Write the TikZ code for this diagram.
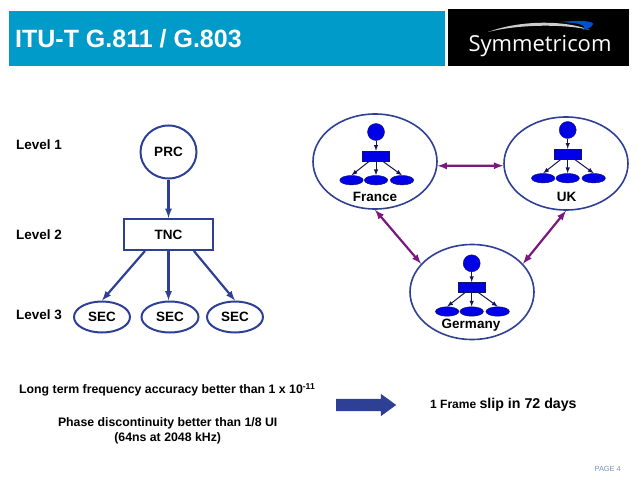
\documentclass[tikz,border=0pt]{standalone}
\usepackage{fontspec}
\setmainfont{Liberation Sans}
\newfontfamily\logofont{Open Sans}
\usepackage{xcolor}
\usetikzlibrary{shapes.geometric}
\usetikzlibrary{shapes.arrows}
\definecolor{headblue}{RGB}{0,155,201}
\definecolor{linkblue}{RGB}{46,64,150}
\definecolor{linkpurple}{RGB}{122,24,124}
\definecolor{treeblue}{RGB}{0,0,230}
\definecolor{treenavy}{RGB}{20,20,90}
\definecolor{pagegrey}{RGB}{120,150,185}

\begin{document}
\begin{tikzpicture}
  [
    x=1pt,
    y=-1pt,
    >=latex,
    label/.style={
       font=\bfseries\fontsize{13.5}{15}\selectfont,
       inner sep=0pt
    },
    clock/.style={
       ellipse,
       draw=linkblue,
       line width=2pt,
       inner sep=0pt,
       font=\bfseries\fontsize{13.5}{15}\selectfont
    },
    ld/.style={
       draw=linkblue,
       line width=2.2pt,
       ->
    },
    region/.style={
       ellipse,
       draw=linkblue,
       line width=1.6pt,
       minimum width=124pt,
       minimum height=95pt,
       inner sep=0pt
    },
    link/.style={
       draw=linkpurple,
       line width=2.2pt,
       <->
    },
    treepart/.style={
       draw=treenavy,
       line width=0.4pt,
       fill=treeblue,
       inner sep=0pt
    },
    treeline/.style={
       draw=treenavy,
       line width=1pt,
       ->
    }
  ]
  \useasboundingbox (0,0) rectangle (638,479);

  % header
  \node (head) at (226.8,38.5) [fill=headblue, minimum width=435.6pt, minimum height=55pt, inner sep=0pt] {};
  \node (title) at (15,38.5) [anchor=west, inner sep=0pt, white, font=\bfseries\fontsize{25}{28}\selectfont] {ITU-T G.811 / G.803};
  \node (logobox) at (538.5,37.5) [fill=black, minimum width=181pt, minimum height=57pt, inner sep=0pt] {};
  \node (logo) at (540,46) [inner sep=0pt, white, font=\logofont\fontsize{22}{25}\selectfont] {Symmetricom};
  \fill [white!80!black] (488,32) .. controls (520,20) and (565,20) .. (590,30) .. controls (565,24) and (520,24) .. (488,32);
  \fill [blue!60!cyan!80!black] (560,22) .. controls (580,20) and (593,21) .. (593,24) .. controls (592,27) and (588,29) .. (583,30) .. controls (587,26) and (583,23) .. (560,22);

  % levels
  \node (level1) at (16,145) [label, anchor=west] {Level 1};
  \node (level2) at (16,235) [label, anchor=west] {Level 2};
  \node (level3) at (16,315) [label, anchor=west] {Level 3};

  \node (prc) at (168.5,152) [clock, minimum width=56pt, minimum height=53pt] {PRC};
  \node (tnc) at (168.5,234.5) [draw=linkblue, line width=2pt, minimum width=89pt, minimum height=31pt, inner sep=0pt, font=\bfseries\fontsize{13.5}{15}\selectfont] {TNC};
  \node (seca) at (102,317) [clock, minimum width=56pt, minimum height=31pt] {SEC};
  \node (secb) at (170,317) [clock, minimum width=57pt, minimum height=31pt] {SEC};
  \node (secc) at (235,317) [clock, minimum width=56pt, minimum height=31pt] {SEC};

  \draw [ld] (prc) -- (tnc);
  \draw [ld] (tnc.215) -- (seca.north);
  \draw [ld] (tnc.south) -- (secb.north -| tnc.south);
  \draw [ld] (tnc.327) -- (secc.north);

  % regions
  \node (france) at (375,161.5) [region] {};
  \node (uk) at (566,163.5) [region, minimum height=93pt] {};
  \node (germany) at (472,292) [region] {};

  \foreach \name/\cx/\cy in {fr/376/132, gb/567.7/130, de/471.7/263.3}
  {
    \node (\name top) at (\cx,\cy) [treepart, circle, minimum size=17pt] {};
    \node (\name mid) at (\cx,\cy+24) [treepart, minimum width=27pt, minimum height=10pt] {};
    \node (\name a) at (\cx-24.5,\cy+48.2) [treepart, ellipse, minimum width=23.5pt, minimum height=9.5pt] {};
    \node (\name b) at (\cx,\cy+48.2) [treepart, ellipse, minimum width=23.5pt, minimum height=9.5pt] {};
    \node (\name c) at (\cx+26,\cy+48.2) [treepart, ellipse, minimum width=23.5pt, minimum height=9.5pt] {};
    \draw [treeline] (\name top) -- (\name mid);
    \draw [treeline] (\name mid.218) -- (\name a.north);
    \draw [treeline] (\name mid) -- (\name b);
    \draw [treeline] (\name mid.322) -- (\name c.north);
  }

  \node (francename) at (375,197) [label] {France};
  \node (ukname) at (566.7,197) [label] {UK};
  \node (germanyname) at (471,325) [label] {Germany};

  \draw [link] (france.356) -- (uk.182);
  \draw [link] (france.south) -- (germany.151);
  \draw [link] (uk.south) -- (germany.29);

  % bottom text
  \node (accuracy) at (19,390) [anchor=west, inner sep=0pt, font=\bfseries\fontsize{12.3}{15}\selectfont] {Long term frequency accuracy better than 1 x 10\textsuperscript{-11}};
  \node (phase) at (167.7,423) [inner sep=0pt, font=\bfseries\fontsize{12.3}{15}\selectfont] {Phase discontinuity better than 1/8 UI};
  \node (phasens) at (167.7,438) [inner sep=0pt, font=\bfseries\fontsize{12.3}{15}\selectfont] {(64ns at 2048 kHz)};
  \node (slip) at (336,405) [single arrow, fill=linkblue, inner sep=0pt, anchor=tail, text height=12pt, text width=0pt, minimum height=60pt, single arrow head extend=5pt, single arrow head indent=0pt, shape border rotate=0, single arrow tip angle=72] {};
  \node (frame) at (430,405) [inner sep=0pt, anchor=west, font=\bfseries\fontsize{12}{14}\selectfont] {1 Frame \fontsize{14.2}{14}\selectfont slip in 72 days};
  \node (page) at (621,469) [anchor=east, inner sep=0pt, pagegrey, font=\fontsize{7.4}{8}\selectfont] {PAGE 4};
\end{tikzpicture}
\end{document}
